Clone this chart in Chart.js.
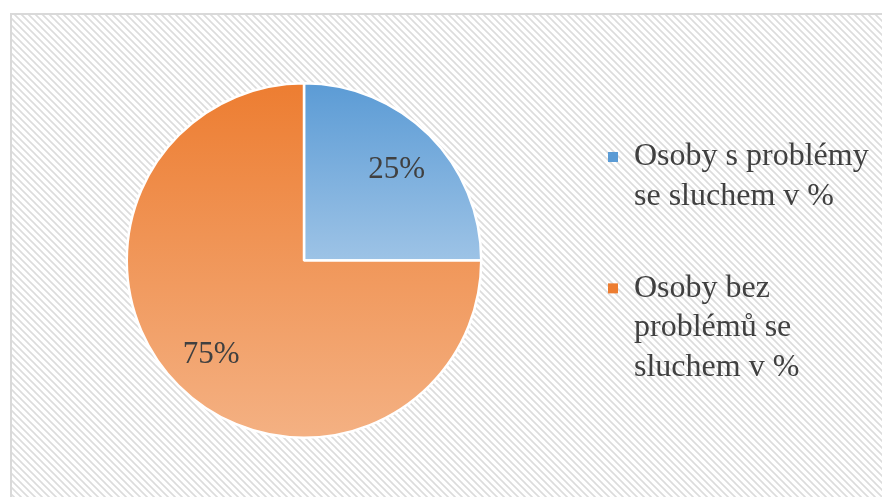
<!DOCTYPE html>
<html>
<head>
<meta charset="utf-8">
<script src="https://cdn.jsdelivr.net/npm/chart.js@4.4.0/dist/chart.umd.min.js"></script>
<style>
  html, body { margin: 0; padding: 0; background: #ffffff; }
  #wrap { width: 882px; height: 497px; position: relative; }
</style>
</head>
<body>
<div id="wrap"><canvas id="pieChart"></canvas></div>
<script>
// data
const kategorie = [
    ['Osoby s problémy', 'se sluchem v %'],
    ['Osoby bez', 'problémů se', 'sluchem v %']
];
const hodnoty = [25, 75];
const barvyHorni = ['#5b9bd5', '#ed7d31'];
const barvyDolni = ['#9dc3e6', '#f4b183'];

const pismo = '"Liberation Serif", "Times New Roman", serif';
const barvaTextu = '#404040';

// hatched background + frame
function vzorSrafovani() {
    const c = document.createElement('canvas');
    c.width = 7; c.height = 7;
    const g = c.getContext('2d');
    g.fillStyle = '#ffffff';
    g.fillRect(0, 0, 7, 7);
    g.strokeStyle = '#dcdcdc';
    g.lineWidth = 1.6;
    g.beginPath();
    g.moveTo(-1, -1); g.lineTo(8, 8);
    g.moveTo(-8, -1); g.lineTo(1, 8);
    g.moveTo(6, -1); g.lineTo(15, 8);
    g.stroke();
    return g.createPattern(c, 'repeat');
}

const pozadiPlugin = {
    id: 'pozadi',
    beforeDraw(chart) {
        const ctx = chart.ctx;
        ctx.save();
        ctx.fillStyle = '#ffffff';
        ctx.fillRect(0, 0, chart.width, chart.height);
        ctx.fillStyle = vzorSrafovani();
        ctx.fillRect(12, 15, chart.width - 12, chart.height - 15);
        ctx.strokeStyle = '#d9d9d9';
        ctx.lineWidth = 2;
        ctx.beginPath();
        ctx.moveTo(11, chart.height);
        ctx.lineTo(11, 14);
        ctx.lineTo(chart.width, 14);
        ctx.stroke();
        ctx.restore();
    }
};

// percent labels inside the slices
const popiskyPlugin = {
    id: 'popisky',
    afterDatasetsDraw(chart) {
        const ctx = chart.ctx;
        const data = chart.data.datasets[0].data;
        const soucet = data.reduce((a, b) => a + b, 0);
        ctx.save();
        ctx.font = '31px ' + pismo;
        ctx.fillStyle = barvaTextu;
        ctx.textAlign = 'center';
        ctx.textBaseline = 'middle';
        chart.getDatasetMeta(0).data.forEach((arc, i) => {
            const p = arc.getProps(['x', 'y', 'startAngle', 'endAngle', 'outerRadius'], true);
            const uhel = (p.startAngle + p.endAngle) / 2;
            const r = p.outerRadius * 0.74;
            const txt = Math.round(data[i] / soucet * 100) + '%';
            ctx.fillText(txt, p.x + Math.cos(uhel) * r, p.y + Math.sin(uhel) * r + 2);
        });
        ctx.restore();
    }
};

function prechod(ctx, i) {
    const area = ctx.chart.chartArea;
    if (!area) return barvyHorni[i];
    const stred = (area.top + area.bottom) / 2;
    const dole = i === 0 ? stred : area.bottom;
    const g = ctx.chart.ctx.createLinearGradient(0, area.top, 0, dole);
    g.addColorStop(0, barvyHorni[i]);
    g.addColorStop(1, barvyDolni[i]);
    return g;
}

const ctxPie = document.getElementById('pieChart').getContext('2d');
new Chart(ctxPie, {
    type: 'pie',
    data: {
        labels: kategorie,
        datasets: [{
            data: hodnoty,
            backgroundColor: (c) => prechod(c, c.dataIndex),
            borderColor: '#ffffff',
            borderWidth: 2.5
        }]
    },
    options: {
        responsive: true,
        maintainAspectRatio: false,
        animation: false,
        layout: { padding: { left: 52, top: 82, bottom: 58, right: 0 } },
        plugins: {
            tooltip: { enabled: false },
            legend: {
                position: 'right',
                align: 'start',
                maxWidth: 326,
                title: { display: true, text: '', font: { size: 1, lineHeight: 1 }, padding: { top: 6, bottom: 0 } },
                labels: {
                    boxWidth: 10,
                    boxHeight: 10,
                    padding: 52,
                    color: barvaTextu,
                    font: { family: pismo, size: 32, lineHeight: 1.24 },
                    generateLabels(chart) {
                        return chart.data.labels.map((t, i) => ({
                            text: t,
                            fillStyle: barvyHorni[i],
                            strokeStyle: barvyHorni[i],
                            fontColor: barvaTextu,
                            lineWidth: 0,
                            hidden: false,
                            index: i
                        }));
                    }
                }
            }
        }
    },
    plugins: [pozadiPlugin, popiskyPlugin]
});
</script>
</body>
</html>
